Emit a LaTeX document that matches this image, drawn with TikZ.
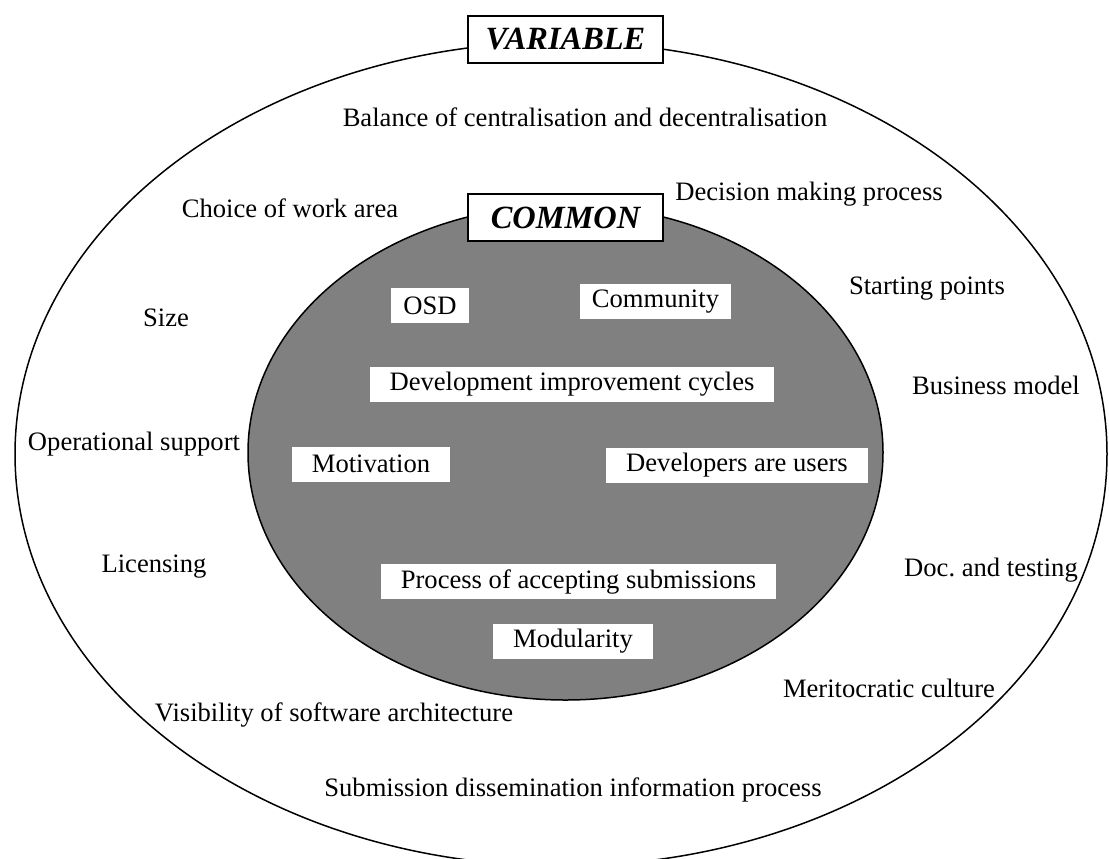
\documentclass[tikz,border=0pt]{standalone}
\usepackage{fontspec}
\setmainfont{Liberation Serif}
\usepackage{tikz}

\tikzset{
  ring/.style={draw=black, line width=0.75pt},
  title/.style={draw=black, fill=white, line width=0.7pt, minimum width=97.5pt,
    minimum height=23.5pt, inner sep=0pt, font=\fontsize{16.2}{18}\selectfont\bfseries\itshape},
  label/.style={inner sep=0pt, font=\fontsize{13.3}{16}\selectfont},
  item/.style={fill=white, inner xsep=10pt, inner ysep=0pt, minimum height=17.5pt,
    font=\fontsize{13.3}{16}\selectfont}
}

\begin{document}
\begin{tikzpicture}[x=0.5pt, y=-0.5pt]
    \useasboundingbox (0,0) rectangle (1109,858);

    % Outer ring (variable)
    \draw[ring] (561,454) ellipse [x radius=273pt, y radius=206pt];

    % Inner ring (common)
    \draw[ring, fill=black!50] (565.5,452.5) ellipse [x radius=158.75pt, y radius=123.75pt];

    % Titles
    \node[title] (variable) at (565.5,39.5) {VARIABLE};
    \node[title] (common) at (565.5,217.5) {COMMON};

    % Variable aspects
    \node[label] (balance) at (585,117) {Balance of centralisation and decentralisation};
    \node[label] (choice) at (290,208) {Choice of work area};
    \node[label] (decision) at (809,194) {Decision making process};
    \node[label] (size) at (166,318) {Size};
    \node[label] (starting) at (927,289) {Starting points};
    \node[label] (business) at (996,385) {Business model};
    \node[label] (operational) at (134,444) {Operational support};
    \node[label] (licensing) at (154,567) {Licensing};
    \node[label] (doc) at (991,570) {Doc.\ and testing};
    \node[label] (meritocratic) at (889,688) {Meritocratic culture};
    \node[label] (visibility) at (334,715) {Visibility of software architecture};
    \node[label] (submission) at (573,790) {Submission dissemination information process};

    % Common aspects
    \node[item, inner xsep=6pt] (osd) at (430,305.5) {OSD};
    \node[item, inner xsep=6pt] (community) at (655.5,301.5) {Community};
    \node[item] (cycles) at (572,384) {Development improvement cycles};
    \node[item] (motivation) at (371,464) {Motivation};
    \node[item] (developers) at (737,465.5) {Developers are users};
    \node[item] (process) at (578.5,581.5) {Process of accepting submissions};
    \node[item] (modularity) at (573,641.5) {Modularity};
\end{tikzpicture}
\end{document}
